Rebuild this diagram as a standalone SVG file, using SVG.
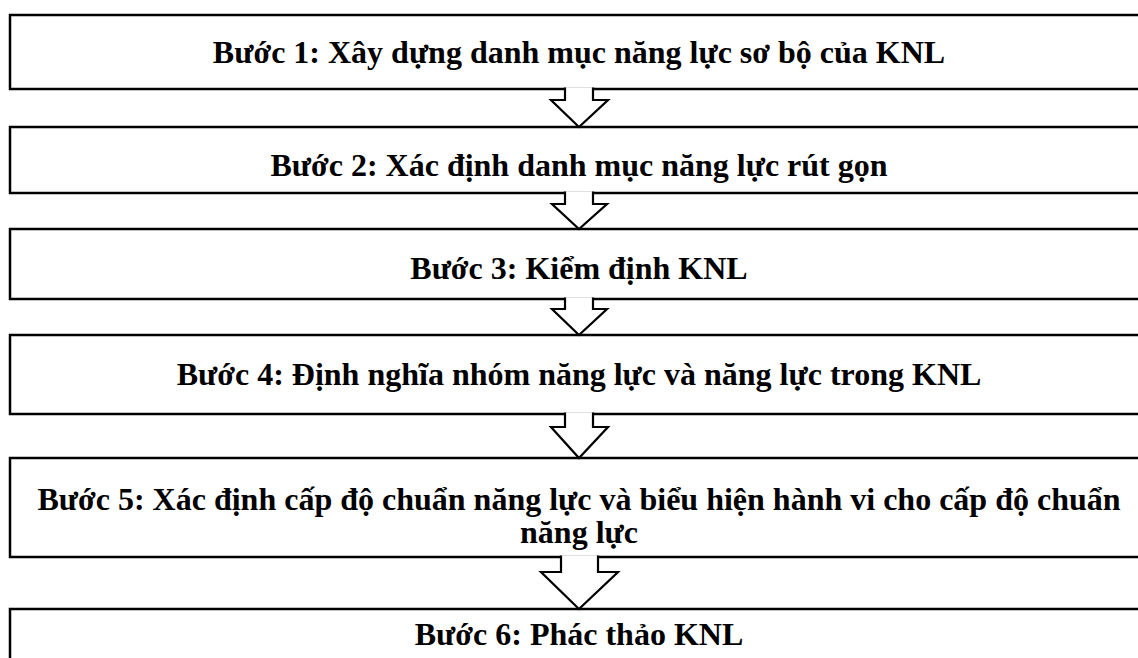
<svg xmlns="http://www.w3.org/2000/svg" width="1138" height="658" viewBox="0 0 1138 658">
  <style>
    .box { fill: #ffffff; stroke: #000000; stroke-width: 2.5; }
    .arrow { fill: #ffffff; stroke: #000000; stroke-width: 2.2; stroke-linejoin: miter; }
    .label { font-family: "Liberation Serif", "Times New Roman", serif; font-weight: bold; font-size: 32px; fill: #000000; text-anchor: middle; }
  </style>
  <rect width="1138" height="658" fill="#ffffff"/>

  <g id="step1">
    <rect class="box" x="10" y="15" width="1140" height="74"/>
    <text class="label" x="579" y="63">Bước 1: Xây dựng danh mục năng lực sơ bộ của KNL</text>
  </g>
  <g id="step2">
    <rect class="box" x="10" y="127" width="1140" height="66"/>
    <text class="label" x="579" y="176">Bước 2: Xác định danh mục năng lực rút gọn</text>
  </g>
  <g id="step3">
    <rect class="box" x="10" y="229" width="1140" height="70"/>
    <text class="label" x="579" y="279">Bước 3: Kiểm định KNL</text>
  </g>
  <g id="step4">
    <rect class="box" x="10" y="335" width="1140" height="79"/>
    <text class="label" x="579" y="385">Bước 4: Định nghĩa nhóm năng lực và năng lực trong KNL</text>
  </g>
  <g id="step5">
    <rect class="box" x="10" y="458" width="1140" height="99"/>
    <text class="label" x="579" y="510">Bước 5: Xác định cấp độ chuẩn năng lực và biểu hiện hành vi cho cấp độ chuẩn</text>
    <text class="label" x="579" y="543">năng lực</text>
  </g>
  <g id="step6">
    <rect class="box" x="10" y="609" width="1140" height="70"/>
    <text class="label" x="579" y="645">Bước 6: Phác thảo KNL</text>
  </g>

  <!-- block arrows between steps; fill covers the box edge under the shaft -->
  <g id="connectors">
    <path class="arrow" d="M565,87.5 V100 H551 L579,127 L608,100 H593 V87.5"/>
    <path class="arrow" d="M565,191.5 V204 H552 L579,229 L607,204 H593 V191.5"/>
    <path class="arrow" d="M565,297.5 V309 H552 L579,335 L607,309 H593 V297.5"/>
    <path class="arrow" d="M565,412.5 V427 H551 L579,458 L608,427 H593 V412.5"/>
    <path class="arrow" d="M561,555.5 V572 H541 L579,609 L618,572 H598 V555.5"/>
  </g>
</svg>
